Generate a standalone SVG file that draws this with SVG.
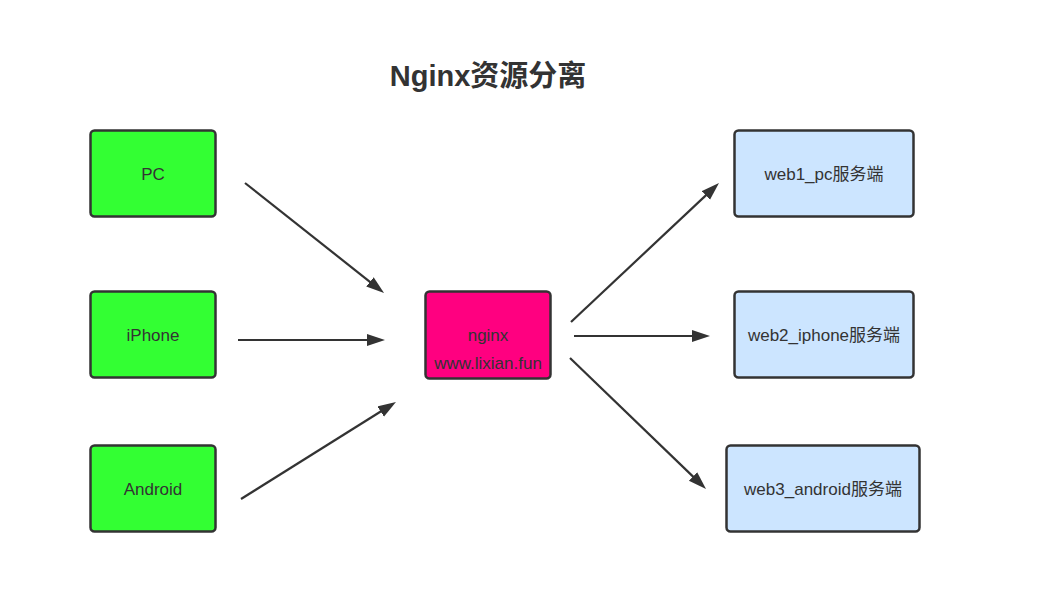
<svg xmlns="http://www.w3.org/2000/svg" width="1039" height="608" viewBox="0 0 1039 608">
<style>
.node rect{stroke:#333333;stroke-width:2.5}
.client rect{fill:#33ff33}
.server rect{fill:#cce5ff}
.proxy rect{fill:#ff0080}
text{font-family:"Liberation Sans","Noto Sans CJK SC",sans-serif;font-size:17px;fill:#333333;text-anchor:middle}
.title{font-size:29px;font-weight:bold}
#connectors line{stroke:#333333;stroke-width:2.2;fill:none;marker-end:url(#arrow)}
</style>
<defs>
<marker id="arrow" markerUnits="userSpaceOnUse" markerWidth="20" markerHeight="14" refX="8" refY="6.5" orient="auto" viewBox="0 0 20 14">
<path d="M0,0.5 L18,6.5 L0,12.5 z" fill="#333333"/>
</marker>
</defs>
<rect width="1039" height="608" fill="#ffffff"/>
<text class="title" x="488" y="86">Nginx资源分离</text>
<g id="connectors">
<line x1="245" y1="183" x2="376.2" y2="286.8"/>
<line x1="238" y1="340" x2="375" y2="340"/>
<line x1="241" y1="499" x2="387.5" y2="407.3"/>
<line x1="571" y1="322" x2="711.7" y2="189.9"/>
<line x1="574" y1="336" x2="700" y2="336"/>
<line x1="570" y1="358" x2="698.8" y2="482.1"/>
</g>
<g id="pc" class="node client"><rect x="90.5" y="130.5" width="125" height="86" rx="4"/><text x="153" y="180">PC</text></g>
<g id="iphone" class="node client"><rect x="90.5" y="291.5" width="125" height="86" rx="4"/><text x="153" y="341">iPhone</text></g>
<g id="android" class="node client"><rect x="90.5" y="445.5" width="125" height="86" rx="4"/><text x="153" y="495">Android</text></g>
<g id="nginx" class="node proxy"><rect x="425.5" y="291.5" width="125" height="87" rx="4"/><text x="488" y="341">nginx</text><text x="488" y="369">www.lixian.fun</text></g>
<g id="web1" class="node server"><rect x="734.5" y="130.5" width="179" height="86" rx="4"/><text x="824" y="180">web1_pc服务端</text></g>
<g id="web2" class="node server"><rect x="734.5" y="291.5" width="179" height="86" rx="4"/><text x="824" y="341">web2_iphone服务端</text></g>
<g id="web3" class="node server"><rect x="726.5" y="445.5" width="193" height="86" rx="4"/><text x="823" y="495">web3_android服务端</text></g>
</svg>
